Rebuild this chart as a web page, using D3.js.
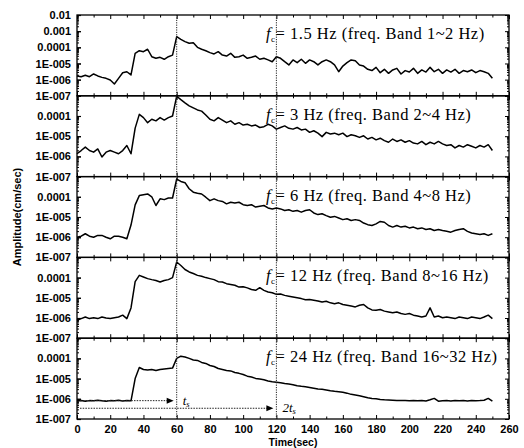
<!DOCTYPE html>
<html><head><meta charset="utf-8">
<script src="https://cdn.jsdelivr.net/npm/d3@7"></script>
<style>body{margin:0;background:#fff}svg{display:block}</style>
</head><body><svg id="c" width="524" height="448"></svg>
<script>
// time axis (sec)
const time = [0,2.5,5,7.5,10,12.5,15,17.5,20,22.5,25,27.5,30,32.5,35,37.5,40,42.5,45,47.5,
50,52.5,55,57.5,60,62.5,65,67.5,70,72.5,75,77.5,80,82.5,85,87.5,90,92.5,95,97.5,
100,102.5,105,107.5,110,112.5,115,117.5,120,122.5,125,127.5,130,132.5,135,137.5,140,142.5,145,147.5,
150,152.5,155,157.5,160,162.5,165,167.5,170,172.5,175,177.5,180,182.5,185,187.5,190,192.5,195,197.5,
200,202.5,205,207.5,210,212.5,215,217.5,220,222.5,225,227.5,230,232.5,235,237.5,240,242.5,245,247.5,250];

// log10 of amplitude (cm/sec)
const logAmp1 = [-5.77,-5.82,-5.73,-5.82,-5.65,-5.77,-5.86,-5.92,-6.02,-6.27,
-5.92,-5.57,-5.51,-5.71,-4.37,-4.21,-4.27,-4.12,-4.58,-4.68,
-4.62,-4.74,-4.58,-4.48,-3.34,-3.51,-3.65,-3.75,-3.71,-4.0,
-4.12,-4.21,-4.33,-4.41,-4.27,-4.48,-4.54,-4.37,-4.62,-4.58,
-4.48,-4.68,-4.62,-4.54,-4.74,-4.68,-4.78,-4.89,-4.58,-4.68,
-4.89,-5.09,-4.78,-4.95,-4.74,-4.99,-4.78,-4.89,-5.09,-4.89,
-4.78,-4.89,-5.09,-5.51,-5.16,-4.95,-4.78,-4.83,-5.09,-5.16,
-5.36,-5.44,-5.24,-5.57,-5.36,-5.61,-5.40,-5.30,-5.65,-5.44,
-5.53,-5.30,-5.61,-5.40,-5.53,-5.24,-5.51,-5.36,-5.61,-5.40,
-5.53,-5.36,-5.61,-5.44,-5.51,-5.40,-5.57,-5.44,-5.51,-5.61,-5.92];
const logAmp2 = [-5.87,-5.71,-5.54,-5.71,-5.79,-5.63,-6.03,-5.79,-5.71,-5.79,
-5.87,-5.71,-5.46,-5.87,-4.6,-3.92,-4.08,-4.33,-4.16,-4.24,
-4.08,-4.2,-4.08,-4.0,-3.02,-3.19,-3.35,-3.5,-3.6,-3.7,
-3.76,-3.95,-4.16,-4.24,-4.08,-4.2,-4.33,-4.24,-4.41,-4.33,
-4.45,-4.41,-4.49,-4.45,-4.57,-4.53,-4.41,-4.49,-4.65,-4.57,
-4.49,-4.61,-4.65,-4.57,-4.69,-4.65,-4.81,-4.73,-4.85,-5.02,
-4.81,-4.89,-4.85,-4.93,-4.85,-5.02,-4.93,-4.98,-5.06,-4.98,
-5.14,-5.06,-5.18,-5.1,-5.22,-5.3,-5.14,-5.26,-5.18,-5.3,
-5.22,-5.34,-5.38,-5.26,-5.42,-5.3,-5.38,-5.26,-5.38,-5.46,
-5.42,-5.58,-5.46,-5.54,-5.42,-5.5,-5.58,-5.46,-5.54,-5.42,-5.71];
const logAmp3 = [-6.0,-5.95,-5.83,-5.95,-6.0,-5.91,-5.91,-6.0,-6.08,-5.95,
-5.95,-6.0,-6.08,-5.4,-4.4,-3.94,-3.9,-3.86,-4.0,-4.43,
-4.1,-4.14,-4.06,-4.06,-3.12,-3.24,-3.3,-3.6,-3.77,-3.82,
-3.86,-4.02,-4.19,-4.1,-4.19,-4.23,-4.35,-4.27,-4.31,-4.27,
-4.39,-4.43,-4.39,-4.51,-4.47,-4.43,-4.55,-4.6,-4.55,-4.6,
-4.68,-4.64,-4.72,-4.68,-4.76,-4.68,-4.64,-4.8,-4.88,-4.84,
-4.93,-5.01,-4.97,-5.05,-5.13,-5.09,-5.17,-5.13,-5.17,-5.3,
-5.38,-5.42,-5.34,-5.22,-5.26,-5.42,-5.5,-5.42,-5.5,-5.46,
-5.54,-5.5,-5.58,-5.54,-5.62,-5.58,-5.67,-5.62,-5.67,-5.71,
-5.75,-5.67,-5.62,-5.58,-5.71,-5.79,-5.83,-5.87,-5.83,-5.91,-5.83];
const logAmp4 = [-6.11,-6.03,-5.95,-6.03,-5.99,-6.03,-5.95,-6.0,-6.03,-5.99,
-5.95,-5.86,-6.03,-5.5,-4.2,-3.89,-3.97,-4.05,-4.1,-4.14,
-4.22,-4.14,-4.1,-4.0,-3.23,-3.4,-3.6,-3.72,-3.8,-3.89,
-3.93,-4.0,-4.05,-4.1,-4.2,-4.22,-4.3,-4.34,-4.38,-4.47,
-4.45,-4.51,-4.59,-4.63,-4.5,-4.63,-4.71,-4.75,-4.83,-4.81,
-4.88,-4.92,-4.96,-5.0,-5.04,-5.1,-5.08,-5.12,-5.16,-5.21,
-5.17,-5.25,-5.29,-5.25,-5.33,-5.37,-5.41,-5.45,-5.37,-5.33,
-5.5,-5.6,-5.62,-5.58,-5.66,-5.7,-5.74,-5.7,-5.78,-5.82,
-5.78,-5.86,-5.9,-5.95,-5.9,-5.5,-5.95,-5.9,-5.99,-5.95,
-5.99,-6.03,-5.95,-5.99,-6.03,-5.95,-5.99,-6.03,-5.95,-5.86,-6.03];
const logAmp5 = [-6.1,-6.08,-6.12,-6.09,-6.1,-6.07,-6.1,-6.12,-6.09,-6.1,
-6.07,-6.11,-6.08,-6.1,-5.0,-4.45,-4.55,-4.58,-4.55,-4.6,
-4.55,-4.52,-4.5,-4.48,-4.0,-3.89,-3.93,-4.0,-4.08,-4.1,
-4.2,-4.25,-4.35,-4.4,-4.5,-4.55,-4.6,-4.62,-4.7,-4.74,
-4.8,-4.88,-4.92,-4.99,-5.02,-5.06,-5.12,-5.16,-5.18,-5.2,
-5.24,-5.27,-5.3,-5.35,-5.38,-5.4,-5.44,-5.48,-5.52,-5.53,
-5.56,-5.6,-5.63,-5.65,-5.68,-5.72,-5.78,-5.81,-5.85,-5.9,
-5.95,-5.98,-6.0,-6.03,-6.05,-6.06,-6.07,-6.09,-6.08,-6.09,
-6.1,-6.09,-6.1,-6.08,-6.11,-6.05,-5.98,-6.12,-6.1,-6.09,
-6.11,-6.08,-6.1,-6.09,-6.11,-6.08,-6.1,-6.09,-6.07,-5.98,-6.12];

const centerFreqs = ["1.5", "3", "6", "12", "24"];
const bandRanges = ["1~2", "2~4", "4~8", "8~16", "16~32"];
const xTickValues = [0,20,40,60,80,100,120,140,160,180,200,220,240,260];
const xMinorValues = [10,30,50,70,90,110,130,150,170,190,210,230,250];
const yTopTicks = [1e-2,1e-3,1e-4,1e-5,1e-6,1e-7];
const yTopLabels = ["0.01","0.001","0.0001","1E-005","1E-006","1E-007"];
const yTicks = [1e-4,1e-5,1e-6,1e-7];
const yLabels = ["0.0001","1E-005","1E-006","1E-007"];
const markerTimes = [60, 120];          // t_s and 2t_s
const arrowLevels = [8.1e-7, 3.4e-7];   // arrow heights in bottom panel
const arrowLabels = ["t", "2t"];

const series = [logAmp1, logAmp2, logAmp3, logAmp4, logAmp5];

const svg = d3.select("#c");
const L = 77, R = 509, T = 15, B = 419;
const x = d3.scaleLinear().domain([0, 260]).range([L, R]);
const ph = (B - T) / 5;
const sans = "'Liberation Sans', Arial, sans-serif";
const serif = "'Liberation Serif', 'Times New Roman', serif";

const decades = d => [1e-7,1e-6,1e-5,1e-4,1e-3,1e-2].filter(v => v <= d);
function minorLog(maxV) {
  const out = [];
  for (let e = -7; Math.pow(10, e) < maxV; e++)
    for (let m = 2; m <= 9; m++) out.push(m * Math.pow(10, e));
  return out;
}

const yScales = [];
series.forEach((s, i) => {
  const y0 = T + i * ph, y1 = y0 + ph;
  const maxV = i === 0 ? 1e-2 : 1e-3;
  const y = d3.scaleLog().domain([1e-7, maxV]).range([y1, y0]);
  yScales.push(y);

  const line = d3.line().x((d, k) => x(time[k])).y(d => y(Math.pow(10, d)));
  svg.append("path").datum(s).attr("d", line)
    .attr("fill", "none").attr("stroke", "#000").attr("stroke-width", 1.5)
    .attr("stroke-linejoin", "round");

  const tv = i === 0 ? yTopTicks : yTicks;
  const tl = i === 0 ? yTopLabels : yLabels;
  const gl = svg.append("g").attr("transform", `translate(${L},0)`)
    .call(d3.axisLeft(y).tickValues(tv).tickSize(-4).tickPadding(6)
      .tickFormat((d, k) => tl[k]));
  gl.select(".domain").remove();
  gl.selectAll("text").attr("font-family", sans).attr("font-size", 11)
    .attr("font-weight", "bold").attr("fill", "#000");
  gl.selectAll("line").attr("stroke-width", 1.2);
  const gd = svg.append("g").attr("transform", `translate(${L},0)`)
    .call(d3.axisLeft(y).tickValues(decades(maxV)).tickSize(-4).tickFormat(""));
  gd.select(".domain").remove();
  const gm = svg.append("g").attr("transform", `translate(${L},0)`)
    .call(d3.axisLeft(y).tickValues(minorLog(maxV)).tickSize(-2).tickFormat(""));
  gm.select(".domain").remove();
  const gr = svg.append("g").attr("transform", `translate(${R},0)`)
    .call(d3.axisRight(y).tickValues(decades(maxV)).tickSize(-4).tickFormat(""));
  gr.select(".domain").remove();
  const grm = svg.append("g").attr("transform", `translate(${R},0)`)
    .call(d3.axisRight(y).tickValues(minorLog(maxV)).tickSize(-2).tickFormat(""));
  grm.select(".domain").remove();

  svg.append("rect").attr("x", L).attr("y", y0).attr("width", R - L).attr("height", ph)
    .attr("fill", "none").attr("stroke", "#000").attr("stroke-width", 1.3);

  [[y0, 1], [y1, -1]].forEach(([yy, dir]) => {
    const major = svg.append("g").attr("transform", `translate(0,${yy})`)
      .call((dir > 0 ? d3.axisBottom(x) : d3.axisTop(x)).tickValues(xTickValues).tickSize(4).tickFormat(""));
    major.select(".domain").remove();
    const minor = svg.append("g").attr("transform", `translate(0,${yy})`)
      .call((dir > 0 ? d3.axisBottom(x) : d3.axisTop(x)).tickValues(xMinorValues).tickSize(2.5).tickFormat(""));
    minor.select(".domain").remove();
  });

  const t = svg.append("text").attr("x", 266).attr("y", y0 + 24)
    .attr("font-family", serif).attr("font-size", 16.5).attr("fill", "#000")
    .attr("letter-spacing", 0.5);
  t.append("tspan").attr("font-style", "italic").text("f");
  t.append("tspan").attr("font-size", 9).attr("dy", 3).text("c");
  t.append("tspan").attr("dy", -3).text(`= ${centerFreqs[i]} Hz (freq. Band ${bandRanges[i]} Hz)`);
});

const gx = svg.append("g").attr("transform", `translate(0,${B})`)
  .call(d3.axisBottom(x).tickValues(xTickValues).tickSize(0).tickPadding(6));
gx.select(".domain").remove();
gx.selectAll("text").attr("font-family", sans).attr("font-size", 11)
  .attr("font-weight", "bold").attr("fill", "#000");

svg.append("text").attr("x", (L + R) / 2).attr("y", 446).attr("text-anchor", "middle")
  .attr("font-family", sans).attr("font-size", 10.5).attr("font-weight", "bold").text("Time(sec)");
svg.append("text").attr("transform", `translate(21,${(T + B) / 2}) rotate(-90)`)
  .attr("text-anchor", "middle").attr("font-family", sans).attr("font-size", 11)
  .attr("font-weight", "bold").text("Amplitude(cm/sec)");

markerTimes.forEach(mt => {
  svg.append("line").attr("x1", x(mt)).attr("x2", x(mt)).attr("y1", T).attr("y2", B)
    .attr("stroke", "#222").attr("stroke-width", 1).attr("stroke-dasharray", "1.2,1.2");
});

const yb = yScales[4];
markerTimes.forEach((mt, k) => {
  const yy = yb(arrowLevels[k]);
  const tip = x(mt) - 3;
  svg.append("line").attr("x1", x(0) + 3).attr("x2", tip - 5).attr("y1", yy).attr("y2", yy)
    .attr("stroke", "#222").attr("stroke-width", 1).attr("stroke-dasharray", "1.5,1.2");
  svg.append("path").attr("d", `M${tip},${yy} L${tip - 7},${yy - 3} L${tip - 7},${yy + 3} Z`).attr("fill", "#000");
  const lt = svg.append("text").attr("x", x(mt) + 6).attr("y", yy + 4)
    .attr("font-family", serif).attr("font-size", 13).attr("font-style", "italic");
  lt.append("tspan").text(arrowLabels[k]);
  lt.append("tspan").attr("font-size", 8.5).attr("dy", 2).text("s");
});
</script>
</body></html>
